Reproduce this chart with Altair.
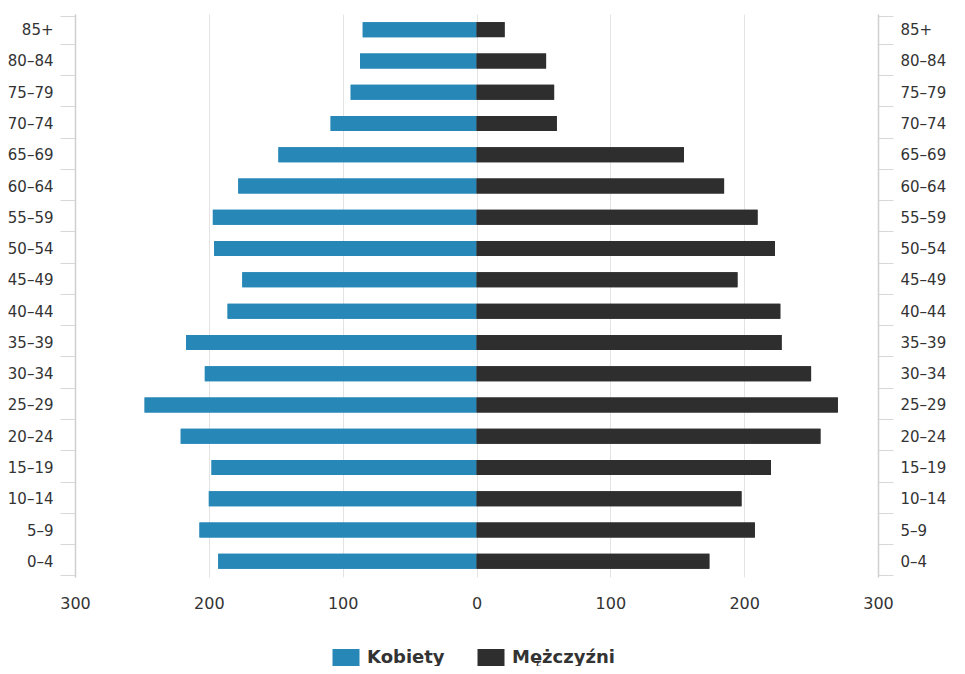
import altair as alt
import pandas as pd

ages = ["0–4", "5–9", "10–14", "15–19", "20–24", "25–29", "30–34", "35–39",
        "40–44", "45–49", "50–54", "55–59", "60–64", "65–69", "70–74",
        "75–79", "80–84", "85+"]
women = [193, 207, 200, 198, 221, 248, 203, 217, 186, 175, 196, 197, 178,
         148, 109, 94, 87, 85]
men = [174, 208, 198, 220, 257, 270, 250, 228, 227, 195, 223, 210, 185,
       155, 60, 58, 52, 21]
series = ["Kobiety", "Mężczyźni"]
colors = ["#2787b7", "#2e2e2e"]
x_ticks = [-300, -200, -100, 0, 100, 200, 300]

rows = []
for a, w, m in zip(ages, women, men):
    rows.append({"age": a, "sex": series[0], "value": -w})
    rows.append({"age": a, "sex": series[1], "value": m})
df = pd.DataFrame(rows)

FONT = "DejaVu Sans"
order = ages[::-1]

x_enc = alt.X("value:Q",
              scale=alt.Scale(domain=[-300, 300], nice=False, zero=False),
              axis=alt.Axis(values=x_ticks, labelExpr="abs(datum.value)",
                            domain=False, ticks=False, grid=True,
                            gridColor="#e3e3e3", gridWidth=1,
                            labelFontSize=16, labelColor="#333",
                            labelPadding=18, labelFlush=False, title=None))

color_enc = alt.Color("sex:N",
                      scale=alt.Scale(domain=series, range=colors),
                      legend=alt.Legend(orient="none", legendX=262, legendY=635,
                                        direction="horizontal", title=None,
                                        symbolType="M-1.5,-1H1.5V1H-1.5Z",
                                        symbolSize=324, symbolStrokeWidth=0,
                                        labelFontSize=18, labelFontWeight="bold",
                                        labelColor="#333", labelOffset=12,
                                        columnPadding=32, padding=0))

def y_axis(orient):
    return alt.Axis(orient=orient, title=None, tickBand="extent",
                    domainColor="#d0d0d0", domainWidth=1.5,
                    tickColor="#d8d8d8", tickSize=15, tickWidth=1,
                    labelFontSize=15, labelColor="#333", labelPadding=7,
                    grid=False)

left = alt.Chart(df).mark_bar(size=15).encode(
    x=x_enc,
    y=alt.Y("age:N", sort=order, axis=y_axis("left")),
    color=color_enc,
)
right = alt.Chart(df).mark_bar(size=15).encode(
    x=alt.X("value:Q"),
    y=alt.Y("age:N", sort=order, axis=y_axis("right")),
    color=alt.Color("sex:N", legend=None),
)

chart = alt.layer(left, right).resolve_axis(y="independent").properties(
    width=803, height=563,
    autosize=alt.AutoSizeParams(type="none"),
    padding={"left": 67, "top": 6, "right": 79, "bottom": 89},
).configure(font=FONT).configure_view(stroke=None)

chart.save("out.html", embed_options={"renderer": "svg", "actions": False})
